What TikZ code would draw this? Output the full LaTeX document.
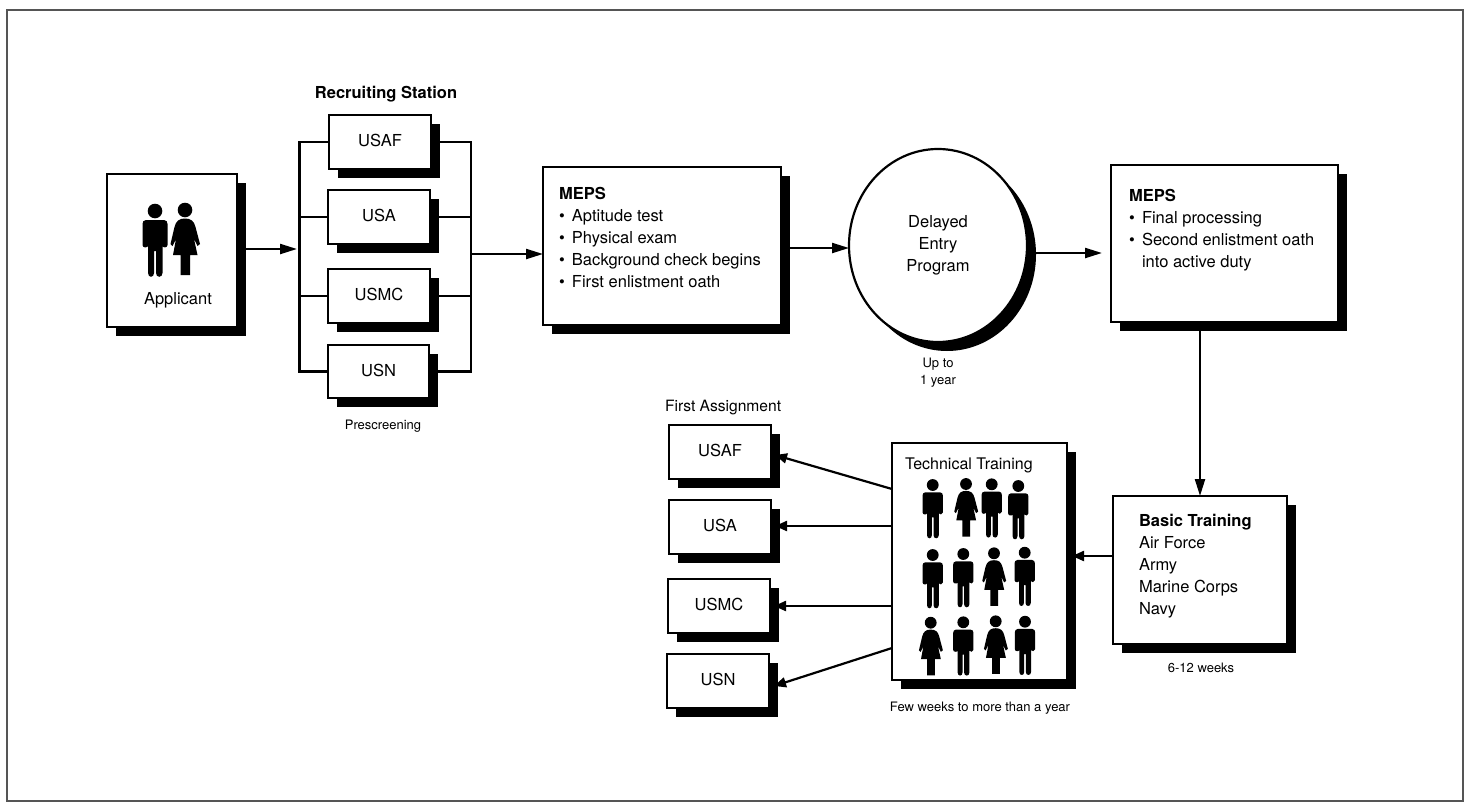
\documentclass[tikz,border=0pt]{standalone}
\usepackage{fontspec}
\setmainfont{TeX Gyre Heros}
\usetikzlibrary{shapes.geometric,shadows,arrows.meta}
\definecolor{framegray}{HTML}{555555}
\tikzset{
  bigtxt/.style={font=\fontsize{16.5}{22}\selectfont},
  smalltxt/.style={font=\fontsize{13}{17}\selectfont},
  boxs/.style={draw=black,fill=white,line width=2.2pt,inner sep=0pt,outer sep=0pt,rectangle,bigtxt,
    drop shadow={shadow xshift=9pt,shadow yshift=-9pt,opacity=1,fill=black}},
  circs/.style={draw=black,fill=white,line width=2.2pt,inner sep=0pt,outer sep=0pt,ellipse,bigtxt,align=center,
    drop shadow={shadow xshift=9pt,shadow yshift=-9pt,opacity=1,fill=black}},
  txt/.style={inner sep=0pt,outer sep=0pt,bigtxt},
  smtxt/.style={inner sep=0pt,outer sep=0pt,smalltxt},
  ltxt/.style={txt,align=left,anchor=north west},
  conn/.style={line width=2.2pt,line cap=butt,line join=miter},
  arr/.style={conn,-{Triangle[length=17pt,width=10pt]}},
  arrs/.style={conn,-{Triangle[length=12pt,width=10pt]}},
  manfig/.pic={
    \fill[black] (0,0) circle (7.3);
    \fill[black] (-9,9) .. controls (-11.5,9) and (-12.5,11) .. (-12.5,13) -- (-12.5,34)
      .. controls (-12.5,37) and (-7.5,37) .. (-7,35) -- (-7,62)
      .. controls (-7,67) and (-1,67) .. (-1,62) -- (-1,40) -- (1,40) -- (1,62)
      .. controls (1,67) and (7.5,67) .. (7.5,62) -- (7.5,35)
      .. controls (8,37) and (12.5,37) .. (12.5,34) -- (12.5,13)
      .. controls (12.5,11) and (11.5,9) .. (9,9) -- cycle;
  },
  womanfig/.pic={
    \fill[black] (0,0) circle (7.3);
    \fill[black] (0,8.5) .. controls (6,8.5) and (9,11) .. (10.5,17) -- (15,34) -- (12.5,36) -- (9,29) -- (12.5,45)
      -- (5,45) -- (5,65) -- (-4.5,65) -- (-4.5,45) -- (-12,45) -- (-9,29) -- (-12.5,36) -- (-14.5,34)
      -- (-10.5,17) .. controls (-9,11) and (-6,8.5) .. (0,8.5) -- cycle;
  },
}
\newcommand{\bxn}[6]{\node[boxs,minimum width={(#4-#2)*1pt},minimum height={(#5-#3)*1pt}] (#1) at ({(#2+#4)/2},{(#3+#5)/2}) {\raisebox{2.5pt}{#6}};}
\newcommand{\bul}{\makebox[13pt][l]{•}}
\begin{document}
\begin{tikzpicture}[x=1pt,y=-1pt]
\fill[white,use as bounding box] (0,0) rectangle (1469,803);
\draw[framegray,line width=2pt] (7,10) rectangle (1463,801);

% Applicant
\bxn{applicant}{107}{174}{237}{327}{}
\pic at (155,211) {manfig};
\pic at (185,210) {womanfig};
\node[txt,anchor=base] (applabel) at (178,304) {Applicant};

% Recruiting station
\node[txt,anchor=base,font=\fontsize{16.5}{22}\selectfont\bfseries] (rstitle) at (386,98) {Recruiting Station};
\bxn{rusaf}{329}{115}{431}{169}{USAF}
\bxn{rusa}{328}{190}{430}{244}{USA}
\bxn{rusmc}{328}{269}{430}{323}{USMC}
\bxn{rusn}{328}{345}{429}{398}{USN}
\node[smtxt,anchor=base] (prescreen) at (383,429) {Prescreening};
\coordinate (lb) at (299.5,250);
\coordinate (rb) at (471,254);
\draw[conn] (rusaf.west) -| (lb) |- (rusn.west);
\draw[conn] (rusa.west) -- (rusa.west -| lb);
\draw[conn] (rusmc.west) -- (rusmc.west -| lb);
\draw[conn] (rusaf.east) -| (rb) |- (rusn.east);
\draw[conn] (rusa.east) -- (rusa.east -| rb);
\draw[conn] (rusmc.east) -- (rusmc.east -| rb);

% MEPS 1
\bxn{mepsa}{543}{167}{781}{325}{}
\node[ltxt] (mepsatxt) at (559,187.5) {\textbf{MEPS}\\\bul Aptitude test\\\bul Physical exam\\\bul Background check begins\\\bul First enlistment oath};

% Delayed entry
\node[circs,minimum width=178pt,minimum height=193pt] (dep) at (938,245.5) {Delayed\\Entry\\Program};
\node[smtxt,anchor=base,align=center] (uptoa) at (938,367) {Up to};
\node[smtxt,anchor=base,align=center] (uptob) at (938,384) {1 year};

% MEPS 2
\bxn{mepsb}{1111}{165}{1338}{322}{}
\node[ltxt] (mepsbtxt) at (1129,189.5) {\textbf{MEPS}\\\bul Final processing\\\bul Second enlistment oath\\\hspace*{13pt}into active duty};

% Basic training
\bxn{basic}{1113}{496}{1287}{644}{}
\node[ltxt] (basictxt) at (1139,514.5) {\textbf{Basic Training}\\Air Force\\Army\\Marine Corps\\Navy};
\node[smtxt,anchor=base] (weeks) at (1201,672) {6-12 weeks};

% Technical training
\bxn{tech}{892}{443}{1067}{680}{}
\node[txt,anchor=base west,font=\fontsize{16}{20}\selectfont] (techtitle) at (905,469) {Technical Training};
\foreach \px/\py in {932.7/485,991.7/484.3,1018.3/486,932.7/555,963.3/554,1024.7/552.7,963.3/622.3,1025/621.7}
  \pic[scale=.81] at (\px,\py) {manfig};
\foreach \px/\py in {966/484,994/553.3,930.7/622.7,995.7/621.3}
  \pic[scale=.81] at (\px,\py) {womanfig};
\node[smtxt,anchor=base] (fewweeks) at (980,711) {Few weeks to more than a year};

% First assignment
\node[txt,anchor=base west,font=\fontsize{15.6}{20}\selectfont] (fatitle) at (665,411) {First Assignment};
\bxn{fusaf}{669}{425}{771}{479}{USAF}
\bxn{fusa}{669}{500}{771}{554}{USA}
\bxn{fusmc}{668}{579}{770}{633}{USMC}
\bxn{fusn}{667}{654}{769}{708}{USN}

% Connectors with arrows
\draw[arr] (applicant.east |- 0,249) -- ([xshift=-2.5pt]lb |- 0,249);
\draw[arr] (rb) -- (mepsa.west |- rb);
\draw[arr] (mepsa.east |- 0,248) -- (dep.west |- 0,248);
\draw[arr] (dep.east |- 0,253) -- ([xshift=-9pt]mepsb.west |- 0,253);
\draw[arr] (mepsb.south -| basic.north) -- (basic.north);
\draw[arrs] (basic.west |- 0,556) -- ([xshift=5pt]tech.east |- 0,556);
\draw[arrs] (tech.west |- 0,489) -- ([xshift=4pt,yshift=-3pt]fusaf.east);
\draw[arrs] (tech.west |- 0,526) -- ([xshift=4pt]fusa.east |- 0,526);
\draw[arrs] (tech.west |- 0,606) -- ([xshift=4pt]fusmc.east);
\draw[arrs] (tech.west |- 0,648) -- ([xshift=5pt,yshift=-5pt]fusn.east);
\end{tikzpicture}
\end{document}
